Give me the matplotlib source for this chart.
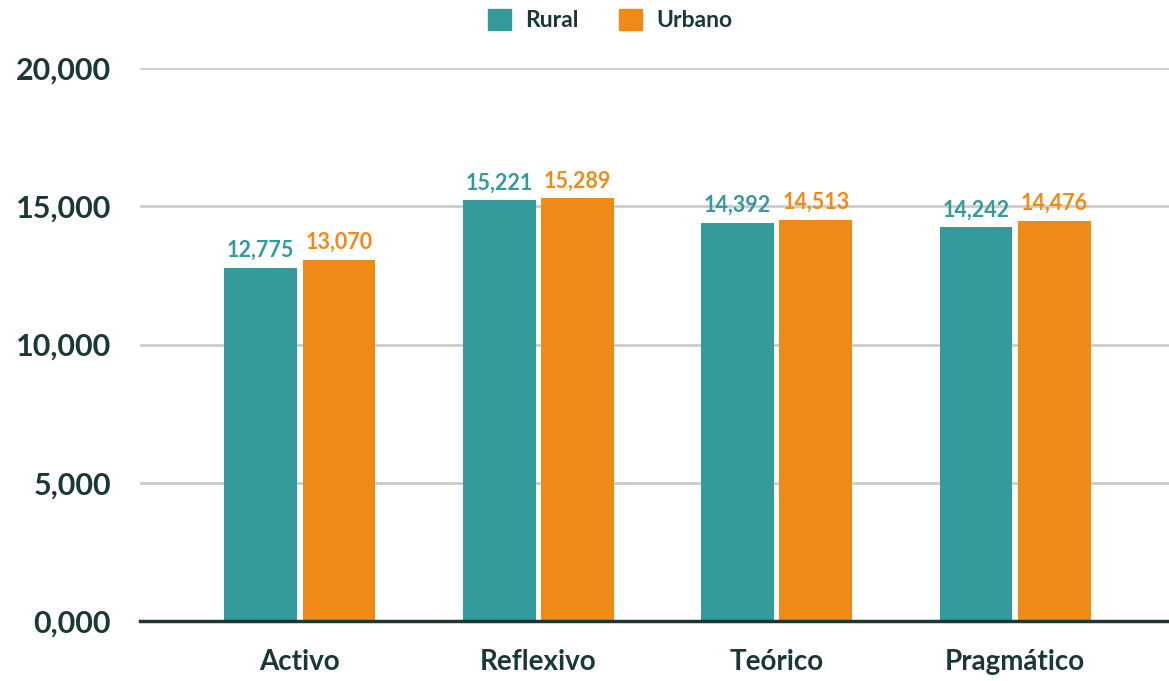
import numpy as np
import matplotlib
matplotlib.use('Agg')
import matplotlib.pyplot as plt
from matplotlib.patches import Patch

categories = ['Activo', 'Reflexivo', 'Teórico', 'Pragmático']
rural = [12775, 15221, 14392, 14242]
urbano = [13070, 15289, 14513, 14476]
yticks = [0, 5000, 10000, 15000, 20000]
ytick_labels = ['0,000', '5,000', '10,000', '15,000', '20,000']

TEAL = '#349a9b'
ORANGE = '#f08a16'
DARK = '#1c3836'

plt.rcParams['font.family'] = ['Lato', 'DejaVu Sans']
plt.rcParams['font.weight'] = 'bold'

fig = plt.figure(figsize=(11.69, 6.81), dpi=100)
ax = fig.add_axes([0.1198, 0.0881, 0.8802, 0.812])

x = np.arange(len(categories))
w = 0.305
off = 0.164
ax.bar(x - off, rural, w, color=TEAL, zorder=3)
ax.bar(x + off, urbano, w, color=ORANGE, zorder=3)

for xi, r, u in zip(x, rural, urbano):
    ax.annotate('{:,}'.format(r), (xi - off, r), xytext=(0, 5),
                textcoords='offset points', ha='center', va='bottom',
                color=TEAL, fontsize=15.5, fontweight='bold')
    ax.annotate('{:,}'.format(u), (xi + off, u), xytext=(0, 5),
                textcoords='offset points', ha='center', va='bottom',
                color=ORANGE, fontsize=15.5, fontweight='bold')

ax.set_xlim(-0.67, 3.645)
ax.set_ylim(0, 20000)
ax.set_yticks(yticks)
ax.set_yticklabels(ytick_labels, fontsize=22, fontweight='bold', color=DARK)
ax.set_xticks(x)
ax.set_xticklabels(categories, fontsize=20, fontweight='bold', color=DARK)
ax.tick_params(axis='y', length=0, pad=21)
ax.tick_params(axis='x', length=0, pad=20)
ax.grid(axis='y', color='#cccccc', linewidth=2, zorder=0)
for s in ['top', 'right', 'left']:
    ax.spines[s].set_visible(False)
ax.spines['bottom'].set_color(DARK)
ax.spines['bottom'].set_linewidth(2.5)
ax.spines['bottom'].set_zorder(4)

handles = [Patch(color=TEAL, label='Rural'), Patch(color=ORANGE, label='Urbano')]
fig.legend(handles=handles, loc='center', bbox_to_anchor=(0.522, 0.97), ncol=2,
           frameon=False, prop={'size': 16.5, 'weight': 'bold'},
           labelcolor=DARK, handlelength=1.0, handleheight=1.0,
           columnspacing=1.8, handletextpad=0.6)

fig.savefig('out.png', dpi=100)
